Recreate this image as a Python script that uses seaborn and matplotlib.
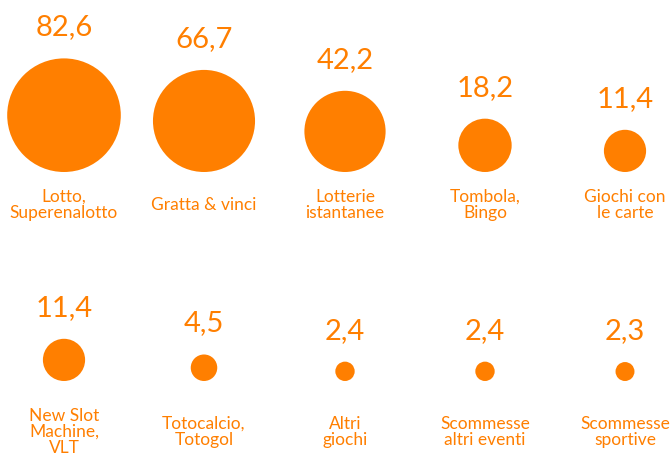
import matplotlib
matplotlib.use("Agg")
import matplotlib.pyplot as plt
import numpy as np
import pandas as pd
import seaborn as sns

# spesa per tipo di gioco (miliardi)
categories = [
    "Lotto,\nSuperenalotto", "Gratta & vinci", "Lotterie\nistantanee",
    "Tombola,\nBingo", "Giochi con\nle carte",
    "New Slot\nMachine,\nVLT", "Totocalcio,\nTotogol", "Altri\ngiochi",
    "Scommesse\naltri eventi", "Scommesse\nsportive",
]
values = [82.6, 66.7, 42.2, 18.2, 11.4, 11.4, 4.5, 2.4, 2.4, 2.3]

ORANGE = "#FF7F00"
DPI = 100
PX_PER_SQRT = 6.25          # circle radius in px = k * sqrt(value)
col_x = np.array([64, 204, 345, 485, 625])
circle_bottom = [172, 381]   # circles sit on a common baseline per row
label_y = [205, 432]
VALUE_GAP = 23

sns.set_theme(style="white")
plt.rcParams["font.family"] = ["Lato", "DejaVu Sans"]

df = pd.DataFrame({"label": categories, "value": values})
df["row"] = df.index // 5
df["col"] = df.index % 5
df["r"] = PX_PER_SQRT * np.sqrt(df["value"])
df["x"] = col_x[df["col"]]
df["y"] = [circle_bottom[r] for r in df["row"]] - df["r"]

fig = plt.figure(figsize=(6.7, 4.58), dpi=DPI)
ax = fig.add_axes([0, 0, 1, 1])

# marker area in pt^2 proportional to value
k = (2 * PX_PER_SQRT * 72 / DPI) ** 2
vmin, vmax = min(values), max(values)
sns.scatterplot(data=df, x="x", y="y", size="value",
                sizes=(k * vmin, k * vmax), size_norm=(vmin, vmax),
                color=ORANGE, linewidth=0, legend=False, ax=ax)

for _, row in df.iterrows():
    txt = f"{row['value']:.1f}".replace(".", ",")
    ax.text(row["x"], row["y"] - row["r"] - VALUE_GAP, txt,
            ha="center", va="baseline", fontsize=21, color=ORANGE)
    ax.text(row["x"], label_y[row["row"]], row["label"],
            ha="center", va="center", fontsize=12.5, color=ORANGE,
            linespacing=1.0)

ax.set_xlim(0, 670)
ax.set_ylim(458, 0)
ax.axis("off")

fig.savefig("out.png", dpi=DPI)
